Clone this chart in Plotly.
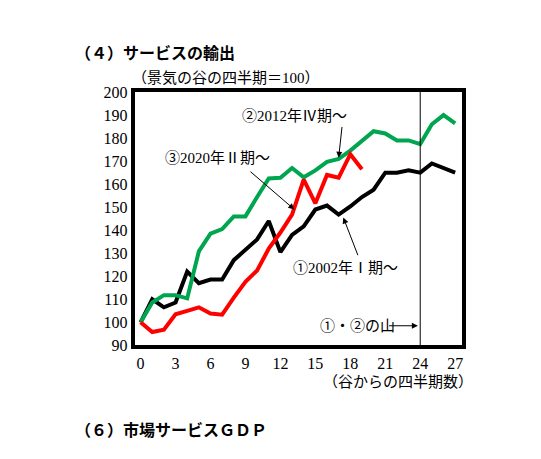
import plotly.graph_objects as go

quarters = list(range(28))
black_2002 = [100, 110, 106.5, 108.6, 122, 117, 118.6, 118.6, 127, 131.5, 136, 144, 130.5, 138,
              141.7, 149, 150.7, 146.8, 150.3, 154.4, 157.6, 165, 165, 166, 165, 169, 167, 165]
green_2012 = [100, 108.6, 111.8, 111.8, 110.4, 130.8, 138.5, 140.5, 146, 146, 154.4, 162.5, 162.8, 167,
              163, 166, 169.7, 171, 174.6, 178.8, 183, 182, 179, 179, 177.4, 186, 190, 186.4]
red_2020 = [100, 95.8, 96.8, 103.5, 105, 106.5, 103.8, 103.3, 110.7, 117.6, 122.5, 132, 139, 146.8,
            162, 151.7, 164, 162.8, 173, 166.5]
x_ticks = [0, 3, 6, 9, 12, 15, 18, 21, 24, 27]

font = "Liberation Serif, Noto Sans CJK JP, serif"
off = 8  # page offset in px

def py(p):
    return 1 - (p - off) / 459

fig = go.Figure()
fig.add_trace(go.Scatter(x=quarters, y=black_2002, mode="lines", line=dict(color="#000000", width=4)))
fig.add_trace(go.Scatter(x=quarters, y=green_2012, mode="lines", line=dict(color="#00a550", width=4)))
fig.add_trace(go.Scatter(x=quarters[:len(red_2020)], y=red_2020, mode="lines", line=dict(color="#ff0000", width=4)))

fig.add_shape(type="line", x0=24, x1=24, y0=90, y1=200, line=dict(color="black", width=1))

def arrow(x, y, ax, ay):
    fig.add_annotation(x=x, y=y, ax=ax, ay=ay, xref="x", yref="y", axref="x", ayref="y",
                       text="", showarrow=True, arrowhead=2, arrowsize=1.2, arrowwidth=1,
                       arrowcolor="black")

def label(text, x, y):
    fig.add_annotation(x=x, y=y, xref="x", yref="y", text=text, showarrow=False,
                       font=dict(size=15, color="black", family=font))

label("②2012年Ⅳ期～", 13.2, 189.5)
arrow(17.0, 171.5, 17.3, 185.5)
label("③2020年Ⅱ期～", 6.6, 171.5)
arrow(13.2, 149, 9.3, 166)
label("①2002年Ⅰ期～", 17.6, 123.4)
arrow(17.4, 145.5, 18.7, 128.5)
label("①・②の山", 18.6, 98.5)
arrow(23.8, 98.5, 21.2, 98.5)

def paper_text(text, px_x, px_y, anchor, size, fam):
    fig.add_annotation(x=px_x / 541, y=py(px_y), xref="paper", yref="paper", xanchor=anchor,
                       yanchor="middle", text=text, showarrow=False,
                       font=dict(size=size, color="black", family=fam))

paper_text("<b>（４）サービスの輸出</b>", 65, 45, "left", 16, "Noto Sans CJK JP")
paper_text("（景気の谷の四半期＝100）", 122, 72, "left", 15, font)
paper_text("（谷からの四半期数）", 468, 388, "right", 15, font)
paper_text("<b>（６）市場サービスＧＤＰ</b>", 65, 437, "left", 16, "Noto Sans CJK JP")

fig.update_layout(
    width=541, height=459, margin=dict(l=0, r=0, t=0, b=0),
    paper_bgcolor="white", plot_bgcolor="white", showlegend=False,
    font=dict(family=font, size=16, color="black"),
    xaxis=dict(domain=[127 / 541, 455 / 541], range=[-0.5, 27.6], tickvals=x_ticks,
               showgrid=False, zeroline=False, showline=True, mirror=True, linecolor="black", linewidth=4,
               ticks="", fixedrange=True),
    yaxis=dict(domain=[py(350), py(87)], range=[90, 200], dtick=10,
               showgrid=False, zeroline=False, showline=True, mirror=True, linecolor="black", linewidth=4,
               ticks="", fixedrange=True),
)
fig.write_html("out.html")
